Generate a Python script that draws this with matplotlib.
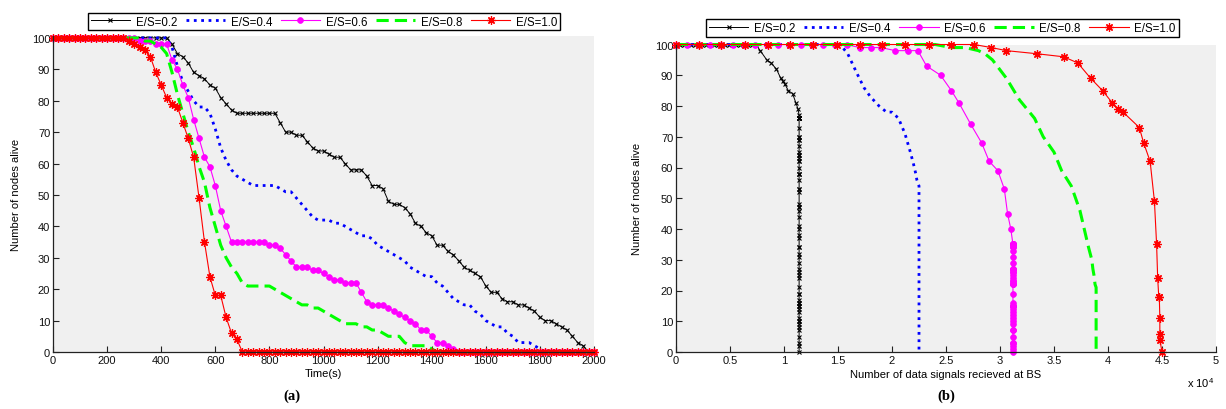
import matplotlib
matplotlib.use("Agg")
import matplotlib.pyplot as plt
from matplotlib.lines import Line2D

plt.rcParams['font.family'] = ['Liberation Sans', 'DejaVu Sans']
plt.rcParams['mathtext.fontset'] = 'custom'
plt.rcParams['mathtext.rm'] = 'Liberation Sans'

# ---------------- data ----------------
time_s = list(range(0, 2001, 20))

series_labels = ['E/S=0.2', 'E/S=0.4', 'E/S=0.6', 'E/S=0.8', 'E/S=1.0']

alive_es02 = [100, 100, 100, 100, 100, 100, 100, 100, 100, 100, 100, 100, 100, 100, 100, 100,
              100, 100, 100, 100, 100, 100, 98, 95, 94, 92, 89, 88, 87, 85, 84, 81, 79, 77,
              76, 76, 76, 76, 76, 76, 76, 76, 73, 70, 70, 69, 69, 67, 65, 64, 64, 63, 62, 62,
              60, 58, 58, 58, 56, 53, 53, 52, 48, 47, 47, 46, 44, 41, 40, 38, 37, 34, 34, 32,
              31, 29, 27, 26, 25, 24, 21, 19, 19, 17, 16, 16, 15, 15, 14, 13, 11, 10, 10, 9,
              8, 7, 5, 3, 2, 0, 0]
alive_es04 = [100, 100, 100, 100, 100, 100, 100, 100, 100, 100, 100, 100, 100, 100, 100, 100,
              100, 100, 100, 100, 100, 100, 97, 91, 86, 83, 80, 78, 78, 76, 71, 65, 61, 58,
              56, 55, 54, 53, 53, 53, 53, 53, 52, 51, 51, 49, 47, 45, 43, 42, 42, 42, 41, 41,
              40, 39, 38, 37, 37, 36, 34, 33, 32, 31, 30, 29, 27, 26, 25, 24, 24, 22, 21, 19,
              17, 16, 15, 15, 13, 12, 10, 9, 8, 8, 6, 5, 3, 3, 3, 2, 1, 0, 0, 0,
              0, 0, 0, 0, 0, 0, 0]
alive_es06 = [100, 100, 100, 100, 100, 100, 100, 100, 100, 100, 100, 100, 100, 100, 100, 100,
              99, 99, 99, 98, 98, 98, 93, 90, 85, 81, 74, 68, 62, 59, 53, 45, 40, 35,
              35, 35, 35, 35, 35, 35, 34, 34, 33, 31, 29, 27, 27, 27, 26, 26, 25, 24, 23, 23,
              22, 22, 22, 19, 16, 15, 15, 15, 14, 13, 12, 11, 10, 9, 7, 7, 5, 3, 3, 2,
              1, 0, 0, 0, 0, 0, 0, 0, 0, 0, 0, 0, 0, 0, 0, 0, 0, 0, 0, 0,
              0, 0, 0, 0, 0, 0, 0]
alive_es08 = [100, 100, 100, 100, 100, 100, 100, 100, 100, 100, 100, 100, 100, 100, 100, 100,
              100, 99, 99, 98, 97, 95, 89, 82, 76, 70, 65, 59, 54, 46, 40, 34, 30, 27,
              25, 22, 21, 21, 21, 21, 21, 20, 19, 18, 17, 16, 15, 15, 14, 14, 13, 12, 11, 10,
              9, 9, 9, 8, 8, 7, 7, 6, 5, 5, 5, 3, 2, 2, 2, 2, 1, 0, 0, 0,
              0, 0, 0, 0, 0, 0, 0, 0, 0, 0, 0, 0, 0, 0, 0, 0, 0, 0, 0, 0,
              0, 0, 0, 0, 0, 0, 0]
alive_es10 = [100, 100, 100, 100, 100, 100, 100, 100, 100, 100, 100, 100, 100, 100, 99, 98,
              97, 96, 94, 89, 85, 81, 79, 78, 73, 68, 62, 49, 35, 24, 18, 18, 11, 6,
              4, 0, 0, 0, 0, 0, 0, 0, 0, 0, 0, 0, 0, 0, 0, 0, 0, 0, 0, 0,
              0, 0, 0, 0, 0, 0, 0, 0, 0, 0, 0, 0, 0, 0, 0, 0, 0, 0, 0, 0,
              0, 0, 0, 0, 0, 0, 0, 0, 0, 0, 0, 0, 0, 0, 0, 0, 0, 0, 0, 0,
              0, 0, 0, 0, 0, 0, 0]

# data signals received at BS (x 10^4), one value per time step until the network dies
signals_es02 = [0, 0.035, 0.07, 0.105, 0.14, 0.175, 0.21, 0.245, 0.28, 0.315, 0.35, 0.385,
                0.42, 0.455, 0.49, 0.525, 0.56, 0.595, 0.63, 0.665, 0.70, 0.74, 0.78, 0.84,
                0.88, 0.93, 0.97, 0.99, 1.01, 1.04, 1.08, 1.11, 1.13, 1.14, 1.14, 1.14, 1.14,
                1.14, 1.14, 1.14, 1.14, 1.14, 1.14, 1.14, 1.14, 1.14, 1.14, 1.14, 1.14, 1.14,
                1.14, 1.14, 1.14, 1.14, 1.14, 1.14, 1.14, 1.14, 1.14, 1.14, 1.14, 1.14, 1.14,
                1.14, 1.14, 1.14, 1.14, 1.14, 1.14, 1.14, 1.14, 1.14, 1.14, 1.14, 1.14, 1.14,
                1.14, 1.14, 1.14, 1.14, 1.14, 1.14, 1.14, 1.14, 1.14, 1.14, 1.14, 1.14, 1.14,
                1.14, 1.14, 1.14, 1.14, 1.14, 1.14, 1.14, 1.14, 1.14, 1.14, 1.14]
signals_es04 = [0, 0.07, 0.14, 0.22, 0.29, 0.36, 0.43, 0.51, 0.58, 0.65, 0.72, 0.80, 0.87,
                0.94, 1.01, 1.09, 1.16, 1.23, 1.30, 1.38, 1.45, 1.52, 1.59, 1.67, 1.74, 1.80,
                1.88, 1.95, 2.00, 2.06, 2.12, 2.17, 2.20, 2.22, 2.23, 2.24, 2.25, 2.25, 2.25,
                2.25, 2.25, 2.25, 2.25, 2.25, 2.25, 2.25, 2.25, 2.25, 2.25, 2.25, 2.25, 2.25,
                2.25, 2.25, 2.25, 2.25, 2.25, 2.25, 2.25, 2.25, 2.25, 2.25, 2.25, 2.25, 2.25,
                2.25, 2.25, 2.25, 2.25, 2.25, 2.25, 2.25, 2.25, 2.25, 2.25, 2.25, 2.25, 2.25,
                2.25, 2.25, 2.25, 2.25, 2.25, 2.25, 2.25, 2.25, 2.25, 2.25, 2.25, 2.25, 2.25,
                2.25]
signals_es06 = [0, 0.105, 0.21, 0.315, 0.42, 0.525, 0.63, 0.735, 0.84, 0.945, 1.05, 1.155,
                1.26, 1.365, 1.47, 1.58, 1.70, 1.81, 1.90, 2.03, 2.15, 2.24, 2.32, 2.45, 2.55,
                2.62, 2.73, 2.83, 2.90, 2.98, 3.04, 3.07, 3.10, 3.12, 3.12, 3.12, 3.12, 3.12,
                3.12, 3.12, 3.12, 3.12, 3.12, 3.12, 3.12, 3.12, 3.12, 3.12, 3.12, 3.12, 3.12,
                3.12, 3.12, 3.12, 3.12, 3.12, 3.12, 3.12, 3.12, 3.12, 3.12, 3.12, 3.12, 3.12,
                3.12, 3.12, 3.12, 3.12, 3.12, 3.12, 3.12, 3.12, 3.12, 3.12, 3.12, 3.12]
signals_es08 = [0, 0.15, 0.30, 0.45, 0.60, 0.75, 0.90, 1.05, 1.20, 1.35, 1.50, 1.65, 1.80,
                1.95, 2.10, 2.25, 2.40, 2.55, 2.68, 2.80, 2.86, 2.93, 3.06, 3.18, 3.32, 3.40,
                3.50, 3.57, 3.66, 3.74, 3.78, 3.82, 3.85, 3.86, 3.87, 3.88, 3.89, 3.89, 3.89,
                3.89, 3.89, 3.89, 3.89, 3.89, 3.89, 3.89, 3.89, 3.89, 3.89, 3.89, 3.89, 3.89,
                3.89, 3.89, 3.89, 3.89, 3.89, 3.89, 3.89, 3.89, 3.89, 3.89, 3.89, 3.89, 3.89,
                3.89, 3.89, 3.89, 3.89, 3.89, 3.89, 3.89]
signals_es10 = [0, 0.21, 0.42, 0.64, 0.85, 1.06, 1.27, 1.49, 1.70, 1.91, 2.12, 2.34, 2.55,
                2.76, 2.92, 3.06, 3.34, 3.59, 3.72, 3.84, 3.95, 4.04, 4.09, 4.14, 4.29, 4.33,
                4.39, 4.43, 4.45, 4.46, 4.47, 4.475, 4.48, 4.48, 4.48, 4.50]

x_ticks_a = list(range(0, 2001, 200))
y_ticks = list(range(0, 101, 10))
x_ticks_b = [0, 0.5, 1, 1.5, 2, 2.5, 3, 3.5, 4, 4.5, 5]
x_ticklabels_b = ['0', '0.5', '1', '1.5', '2', '2.5', '3', '3.5', '4', '4.5', '5']

# ---------------- styles ----------------
styles = [
    dict(color='#000000', linestyle='-', linewidth=0.7, marker='x', markersize=3.5, markeredgewidth=0.8),
    dict(color='#0000ff', linestyle=':', linewidth=2.0, marker=None),
    dict(color='#ff00ff', linestyle='-', linewidth=0.8, marker='o', markersize=4.2, markeredgewidth=0.5),
    dict(color='#00ff00', linestyle='--', linewidth=2.2, marker=None, dashes=(4, 2)),
    dict(color='#ff0000', linestyle='-', linewidth=0.8, marker=(8, 2, 0), markersize=6.0, markeredgewidth=0.9),
]

alive = [alive_es02, alive_es04, alive_es06, alive_es08, alive_es10]
signals = [signals_es02, signals_es04, signals_es06, signals_es08, signals_es10]

W, H = 1226, 410
fig = plt.figure(figsize=(W / 100, H / 100), dpi=100)

def px_axes(x0, x1, ytop, ybot):
    return fig.add_axes([x0 / W, 1 - ybot / H, (x1 - x0) / W, (ybot - ytop) / H])

axA = px_axes(53, 594, 37, 353)
axB = px_axes(676, 1216, 45.5, 353)

FS = 8
for ax in (axA, axB):
    ax.set_facecolor('#f0f0f0')
    for s in ('top', 'right'):
        ax.spines[s].set_visible(False)
    for s in ('left', 'bottom'):
        ax.spines[s].set_linewidth(0.9)
        ax.spines[s].set_color('#222222')
    ax.tick_params(direction='in', length=4, width=0.8, labelsize=FS, pad=2,
                   colors='#222222', labelcolor='#111111')
    ax.set_yticks(y_ticks)

for a, st in zip(alive, styles):
    axA.plot(time_s, a, clip_on=False, **st)
axA.set_xlim(0, 2000)
axA.set_ylim(0, 100.6)
axA.set_xticks(x_ticks_a)
axA.set_xlabel('Time(s)', fontsize=FS, labelpad=2)
axA.set_ylabel('Number of nodes alive', fontsize=FS, labelpad=8)

for sig, a, st in zip(signals, alive, styles):
    axB.plot(sig, a[:len(sig)], clip_on=False, **st)
axB.set_xlim(0, 5)
axB.set_ylim(0, 100)
axB.set_xticks(x_ticks_b)
axB.set_xticklabels(x_ticklabels_b)
axB.set_xlabel('Number of data signals recieved at BS', fontsize=FS, labelpad=3)
axB.set_ylabel('Number of nodes alive', fontsize=FS, labelpad=9)

fig.text(1187 / W, 1 - 383 / H, r'x 10$^{4}$', fontsize=FS, va='center', ha='left')

fig.text(292 / W, 1 - 396 / H, '(a)', fontsize=10.5, fontweight='bold',
         family='Liberation Serif', ha='center', va='center')
fig.text(946 / W, 1 - 396 / H, '(b)', fontsize=10.5, fontweight='bold',
         family='Liberation Serif', ha='center', va='center')

handles = []
for st in styles:
    handles.append(Line2D([], [], **st))

for ax, cx, cy in ((axA, 324, 22.5), (axB, 942.5, 29)):
    leg = ax.legend(handles, series_labels, ncol=5, loc='center',
                    bbox_to_anchor=(cx / W, 1 - cy / H), bbox_transform=fig.transFigure,
                    fontsize=8.3, numpoints=1, handlelength=3.4, handletextpad=0.5,
                    columnspacing=0.75, borderpad=0.25, borderaxespad=0,
                    fancybox=False, framealpha=1, edgecolor='black')
    leg.get_frame().set_linewidth(1.0)

fig.savefig('out.png', dpi=100)
